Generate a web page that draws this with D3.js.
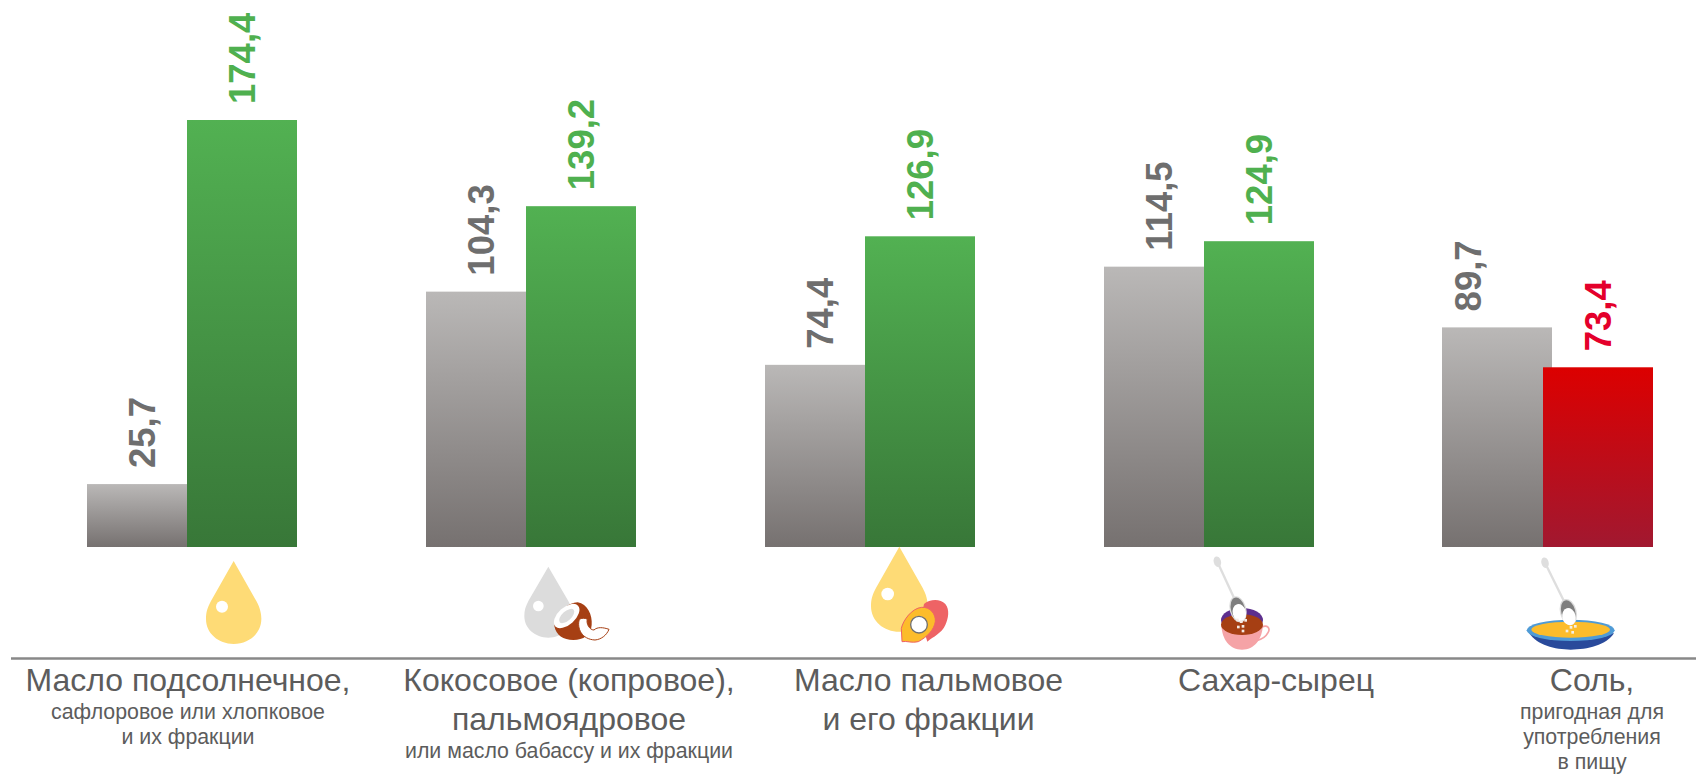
<!DOCTYPE html>
<html><head><meta charset="utf-8">
<script src="https://cdnjs.cloudflare.com/ajax/libs/d3/7.8.5/d3.min.js"></script>
<style>html,body{margin:0;padding:0;background:#fff;overflow:hidden}svg{display:block}text{font-family:"Liberation Sans",Arial,sans-serif}</style>
</head><body><svg id="c" width="1696" height="774"></svg>
<script>
const categories = ["Масло подсолнечное","Кокосовое, пальмоядровое","Масло пальмовое","Сахар-сырец","Соль"];
const baseValues = [25.7,104.3,74.4,114.5,89.7];
const compareValues = [174.4,139.2,126.9,124.9,73.4];
const titleLines = [["Масло подсолнечное,"],["Кокосовое (копровое),","пальмоядровое"],["Масло пальмовое","и его фракции"],["Сахар-сырец"],["Соль,"]];
const noteLines = [["сафлоровое или хлопковое","и их фракции"],["или масло бабассу и их фракции"],[],[],["пригодная для","употребления","в пищу"]];
const labelCentres = [188,569,928.5,1276,1592];
const iconNames = ["drop","coconut","palm","cup","bowl"];

const svg = d3.select("#c");
const baselineY = 547, topY = 120;
const x0 = d3.scalePoint().domain(categories).range([87,1442]);
const x = c => Math.ceil(x0(c));
const y = d3.scaleLinear().domain([0,d3.max(compareValues)]).range([baselineY,topY]);
const fmt = v => d3.format(".1f")(v).replace(".",",");
const defs = svg.append("defs");
function grad(id,a,b){const g=defs.append("linearGradient").attr("id",id).attr("x1",0).attr("y1",0).attr("x2",0).attr("y2",1);
 g.append("stop").attr("offset",0).attr("stop-color",a);g.append("stop").attr("offset",1).attr("stop-color",b);}
grad("gGray","#bab8b7","#767170");grad("gGreen","#52b152","#387738");grad("gRed","#dc0000","#a11830");

const barW = 110, shift = i => i===4?101:100;
const rows = categories.map((c,i)=>({c,i,a:baseValues[i],b:compareValues[i]}));
svg.append("g").selectAll("rect").data(rows).join("rect")
 .attr("x",d=>x(d.c)).attr("y",d=>y(d.a)).attr("width",barW).attr("height",d=>baselineY-y(d.a)).attr("fill","url(#gGray)");
svg.append("g").selectAll("rect").data(rows).join("rect")
 .attr("x",d=>x(d.c)+shift(d.i)).attr("y",d=>y(d.b)).attr("width",barW).attr("height",d=>baselineY-y(d.b))
 .attr("fill",d=>d.b<d.a?"url(#gRed)":"url(#gGreen)");

function vlabel(px,py,t,col){svg.append("text").attr("transform",`translate(${px},${py}) rotate(-90)`)
 .attr("font-size",36.5).attr("font-weight","bold").attr("fill",col).text(t);}
rows.forEach(d=>{
 vlabel(x(d.c)+(d.i===4?39:68), y(d.a)-16, fmt(d.a), "#6e6e6e");
 vlabel(x(d.c)+shift(d.i)+68, y(d.b)-16, fmt(d.b), d.b<d.a?"#e4002b":"#4fb04f");
});

svg.append("line").attr("x1",11).attr("x2",1696).attr("y1",658.5).attr("y2",658.5).attr("stroke","#888").attr("stroke-width",2.5);

rows.forEach(d=>{
 const cx=labelCentres[d.i];
 titleLines[d.i].forEach((t,k)=>{svg.append("text").attr("x",cx).attr("y",691+k*38.5).attr("text-anchor","middle").attr("font-size",32).attr("fill","#5c5c5c").text(t);});
 const yy = 691+(titleLines[d.i].length-1)*38.5+28;
 noteLines[d.i].forEach((t,k)=>{svg.append("text").attr("x",cx).attr("y",yy+k*25.2).attr("text-anchor","middle").attr("font-size",21.33).attr("fill","#5c5c5c").text(t);});
});

// pictograms, drawn at one third scale of their local grid
function icon(ox,oy){return svg.append("g").attr("transform",`translate(${ox},${oy}) scale(${1/3})`);}
function dropPath(cx,tip,bot,hw){const cy=bot-hw*1.0;return `M${cx},${tip}L${cx+hw*0.82},${cy-hw*0.55}C${cx+hw*1.02},${cy-hw*0.2} ${cx+hw},${cy+hw*0.1} ${cx+hw},${cy+hw*0.1}C${cx+hw},${cy+hw*0.62} ${cx+hw*0.55},${bot} ${cx},${bot}C${cx-hw*0.55},${bot} ${cx-hw},${cy+hw*0.62} ${cx-hw},${cy+hw*0.1}C${cx-hw},${cy-hw*0.15} ${cx-hw*0.95},${cy-hw*0.3} ${cx-hw*0.82},${cy-hw*0.55}Z`;}
function spoon(g,x1,y1,x2,y2,bx,by,rot,sx,sy){
 g.append("line").attr("x1",x1).attr("y1",y1).attr("x2",x2).attr("y2",y2).attr("stroke","#dedede").attr("stroke-width",7);
 g.append("ellipse").attr("transform",`translate(${x1},${y1}) rotate(${rot})`).attr("rx",11).attr("ry",16).attr("fill","#dedede");
 g.append("ellipse").attr("transform",`translate(${bx},${by}) rotate(${rot})`).attr("rx",25).attr("ry",40).attr("fill","#dcdcdc");
 g.append("ellipse").attr("transform",`translate(${bx},${by}) rotate(${rot})`).attr("rx",21).attr("ry",36).attr("fill","#7e7e7e");
 g.append("ellipse").attr("transform",`translate(${sx},${sy}) rotate(${rot})`).attr("rx",20).attr("ry",26).attr("fill","#fff");
}
function grains(g,pts,col){g.selectAll("rect.gr").data(pts).join("rect").attr("class","gr").attr("x",d=>d[0]-4).attr("y",d=>d[1]-4).attr("width",8).attr("height",8).attr("fill",col);}
const painters = {
 drop(){const g=icon(180,540);
  g.append("path").attr("d",dropPath(161,63,312,83)).attr("fill","#fedb76");
  g.append("circle").attr("cx",126).attr("cy",200).attr("r",18).attr("fill","#fff");},
 coconut(){const g=icon(480,540);
  g.append("path").attr("d",dropPath(205,80,293,72)).attr("fill","#dcdcdc");
  g.append("circle").attr("cx",175).attr("cy",198).attr("r",16).attr("fill","#fff");
  g.append("path").attr("d","M223,258C232,215 265,188 293,187C322,192 338,225 335,255C333,285 310,300 280,300C250,300 228,285 223,258Z").attr("fill","#a63f13");
  g.append("ellipse").attr("transform","translate(260,228) rotate(-42)").attr("rx",46).attr("ry",26).attr("fill","#fff");
  g.append("ellipse").attr("transform","translate(260,228) rotate(-42)").attr("rx",28).attr("ry",14).attr("fill","#dcdcdc");
  g.append("path").attr("d","M298,238C290,265 305,298 345,300C365,298 380,285 387,268C370,262 352,260 342,270C328,270 318,250 322,238C314,233 305,234 298,238Z").attr("fill","#fff").attr("stroke","#a63f13").attr("stroke-width",3);},
 palm(){const g=icon(840,540);
  g.append("path").attr("d",dropPath(178,20,275,85)).attr("fill","#fedb76");
  g.append("circle").attr("cx",143).attr("cy",162).attr("r",19).attr("fill","#fff");
  g.append("path").attr("d","M252,192C268,178 300,175 316,192C330,210 325,235 316,255C305,280 280,290 262,305L258,292L240,250Z").attr("fill","#ee6365");
  g.append("path").attr("d","M186,305L184,265C190,240 215,205 245,202C270,200 288,222 286,245C282,270 262,290 235,305C215,310 200,302 186,305Z").attr("fill","#fcbc2b").attr("stroke","#ee6365").attr("stroke-width",3);
  g.append("circle").attr("cx",237).attr("cy",254).attr("r",25).attr("fill","#fff").attr("stroke","#6f6f6f").attr("stroke-width",4);},
 cup(){const g=icon(1180,550);
  g.append("ellipse").attr("cx",186).attr("cy",210).attr("rx",63).attr("ry",36).attr("fill","#5d2f8e");
  g.append("path").attr("d","M245,232C262,222 272,235 264,248C258,260 245,268 230,272").attr("fill","none").attr("stroke","#f5a3a6").attr("stroke-width",5);
  g.append("path").attr("d","M124,225C126,270 150,299 186,299C222,299 246,270 249,225Z").attr("fill","#f5a3a6");
  g.append("ellipse").attr("cx",186).attr("cy",224).attr("rx",63).attr("ry",31).attr("fill","#a63f13");
  spoon(g,112,35,165,150,174,178,-15,178,188);
  grains(g,[[172,210],[184,215],[197,211],[175,231],[189,229],[189,243]],"#f3e9e4");},
 bowl(){const g=icon(1500,550);
  g.append("path").attr("d","M88,250C110,285 165,299 212,299C262,299 320,285 342,250Z").attr("fill","#294a9b");
  g.append("ellipse").attr("cx",212).attr("cy",241).attr("rx",132).attr("ry",32).attr("fill","#4f9bd6");
  g.append("ellipse").attr("cx",212).attr("cy",239).attr("rx",118).attr("ry",24).attr("fill","#fcbc2b");
  spoon(g,135,38,195,160,205,186,-15,207,200);
  grains(g,[[213,232],[226,229],[201,243],[218,247]],"#f4efe6");}
};
iconNames.forEach(n=>painters[n]());
</script></body></html>
